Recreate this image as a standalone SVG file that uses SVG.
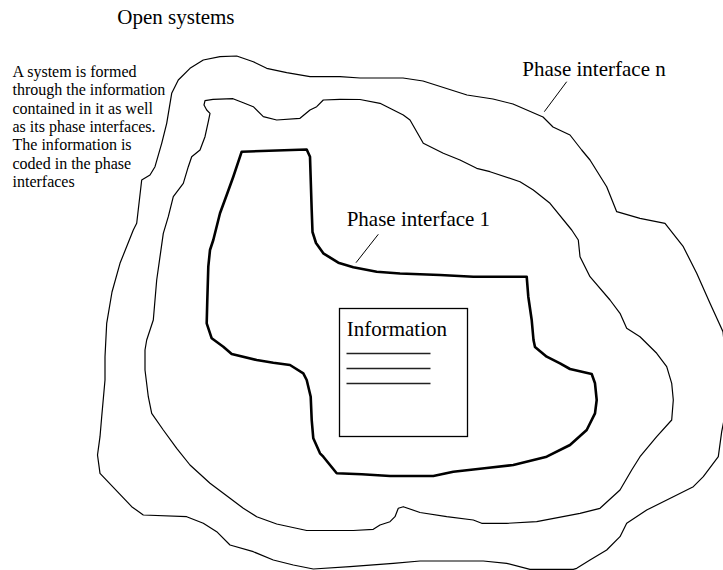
<svg xmlns="http://www.w3.org/2000/svg" width="723" height="570" viewBox="0 0 723 570">
<style>
  .big { font-family: "Liberation Serif", "Times New Roman", serif; font-size: 21px; fill: #000; }
  .small { font-family: "Liberation Serif", "Times New Roman", serif; font-size: 16px; fill: #000; }
  .thin { fill: none; stroke: #000; stroke-width: 1.2; stroke-linejoin: round; }
  .thick { fill: none; stroke: #000; stroke-width: 2.6; stroke-linejoin: round; }
  .leader { fill: none; stroke: #000; stroke-width: 1; }
  .box { fill: #fff; stroke: #000; stroke-width: 1.3; }
  .rule { stroke: #222; stroke-width: 1.6; }
</style>
<rect width="723" height="570" fill="#fff"/>
<text class="big" x="117.3" y="23.5">Open systems</text>
<g id="note">
  <text class="small" x="12.5" y="77">A system is formed</text>
  <text class="small" x="12.5" y="95.3">through the information</text>
  <text class="small" x="12.5" y="113.6">contained in it as well</text>
  <text class="small" x="12.5" y="131.9">as its phase interfaces.</text>
  <text class="small" x="12.5" y="150.2">The information is</text>
  <text class="small" x="12.5" y="168.5">coded in the phase</text>
  <text class="small" x="12.5" y="186.8">interfaces</text>
</g>
<g id="phase-interface-n">
  <path class="thin" d="M141.7,180 L150,175 L155,166.7 L161.7,143.3 L166.7,123.3 L171.7,93.3 L178.3,80 L190,68.3 L203.3,60 L220,56.7 L236.7,56 L253.3,61.7 L266.7,68.3 L286.7,72.7 L310,76.7 L340,76.7 L360,78 L403,78 L423,81 L467,95 L493,99 L513,104 L543,117 L553,127 L570,135 L581.7,150 L590,160 L606.7,186.7 L616.7,211.7 L640,218.3 L665,223.3 L683.3,246.7 L696.7,273.3 L710,303.3 L723,331.7 L726,360 L726,410 L721.7,431.7 L718.3,456.7 L703.3,476.7 L693.3,486.7 L673.3,496.7 L646.7,510 L626.7,523.3 L620,536.7 L606.7,550 L590,560 L576.7,568.3 L573.3,569.3 L530,569.3 L506.7,563.3 L483.3,561 L420,561 L393.3,563.3 L350,566.7 L313.3,569 L293.3,565 L273.3,560 L253.3,551.7 L230,545 L216.7,531.7 L203.3,523.3 L186.7,516.7 L143.3,515 L131.7,506.7 L100,473.3 L97.5,455 L100,436.7 L101.7,416.7 L105,380 L105,356.7 L106.7,323.3 L112,292 L120,263.3 L133.3,230 L136.7,223.3 Z"/>
  <text class="big" x="522.3" y="76">Phase interface n</text>
  <line class="leader" x1="566.7" y1="81.7" x2="544.3" y2="111.7"/>
</g>
<g id="phase-interface-2">
  <path class="thin" d="M205,100.7 L213,99.3 L233,98.7 L243.3,102.7 L253.3,106.7 L263.3,116.7 L276.7,120 L300,118.3 L310,110 L316.7,106.7 L323.3,100 L340,99.3 L360,99.5 L380,103.3 L403.3,115 L410,120 L423.3,143.3 L443.3,153.3 L460,160 L476.7,168.3 L490,171.7 L520,181.7 L533.3,190 L550,203.3 L571.7,230 L578.3,240 L580,256.7 L590,276.7 L610,300 L620,313.3 L626.7,328.3 L640,336.7 L656.7,353.3 L666.7,366.7 L671.7,383.3 L673.3,400 L671.7,420 L656.7,436.7 L640,456.7 L631.7,470 L620,490 L600,508.3 L580,513.3 L536.7,521.7 L506.7,523.3 L481.7,523.3 L473.3,520 L446.7,516.7 L420,512.5 L403.3,506.7 L398.3,508.3 L395,516.7 L390,521.7 L380,525 L373.3,529.3 L353.3,530.5 L306.7,530.5 L276.7,524 L256.7,516.7 L243.3,508.3 L230,498.3 L210,483.3 L190,465 L176.7,448.3 L163.3,430 L151.7,413.3 L148.3,396.7 L145,370 L145,350 L146.7,340 L153.3,320 L155,300 L156.7,280 L160,256.7 L163.3,233.3 L168.3,216.7 L173.3,196.7 L183.3,183.3 L188.3,166.7 L191.7,156.7 L200,150 L205,136.7 L208.3,121.7 L210,113.3 L206.7,110 L204,105 Z"/>
</g>
<g id="phase-interface-1">
  <path class="thick" d="M241.7,151.7 L306.7,149.5 L310,156.7 L311.7,210 L312.5,232 L316,243 L323.3,253.3 L338.3,262.7 L353.3,267.3 L376.7,271.7 L400,273.5 L440,275 L473.3,276.7 L526.7,276.7 L528.3,296.7 L531.7,320 L533.5,340 L535,347 L546.7,356.7 L560,363.3 L570,369 L591.7,374 L595,383.3 L596.7,400 L595,413.3 L586.7,430 L570,445 L546.7,456.7 L513.3,465 L486.7,468 L453.3,471.7 L433.3,476 L390,476 L361.7,474.3 L336.7,473.3 L323.3,456.7 L320,453.3 L313.3,438.3 L311.7,420 L310.7,396.7 L306.7,380 L303.3,373.3 L290,365 L273.3,362.7 L256.7,360 L231.7,354 L223.3,346.7 L211.7,338.3 L206.7,323.3 L207.3,300 L208.3,266.7 L210,250 L213.3,240 L220,213.3 L226.7,195 L233.3,176.7 Z"/>
  <text class="big" x="346.7" y="226">Phase interface 1</text>
  <line class="leader" x1="378.3" y1="234.3" x2="356" y2="262.7"/>
</g>
<g id="information">
  <rect class="box" x="339.5" y="308.5" width="128" height="128"/>
  <text class="big" x="346.7" y="335.7">Information</text>
  <line class="rule" x1="346.5" y1="353.5" x2="430.5" y2="353.5"/>
  <line class="rule" x1="346.5" y1="368.5" x2="430.5" y2="368.5"/>
  <line class="rule" x1="346.5" y1="383.5" x2="430.5" y2="383.5"/>
</g>
</svg>
